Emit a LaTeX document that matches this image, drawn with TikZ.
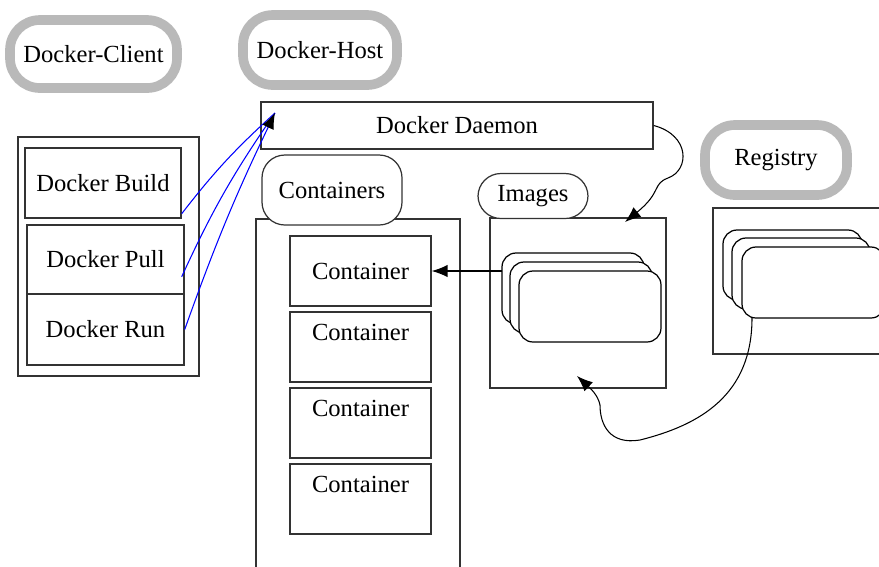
\documentclass[tikz,border=0pt]{standalone}
\usepackage{fontspec}
\setmainfont{Liberation Serif}
\usetikzlibrary{arrows.meta}
\begin{document}
\begin{tikzpicture}[x=0.02cm, y=-0.02cm,
    font=\fontsize{14}{16}\selectfont,
    size/.style args={#1/#2}{minimum width=#1*0.02cm, minimum height=#2*0.02cm, inner sep=0pt},
    title/.style={draw=gray!55, line width=5.5pt, rounded corners=17pt, size=#1},
    box/.style={draw=black!80, line width=0.8pt, size=#1},
    tag/.style={draw=black!80, line width=0.7pt, rounded corners=13pt, fill=white, size=#1},
    card/.style={draw, line width=0.7pt, rounded corners=8pt, fill=white},
    tip/.style={-{Latex[length=9pt,width=7pt]}, line width=0.6pt},
    cmd/.style={blue, line width=0.6pt}
]
\useasboundingbox (0,0) rectangle (879,566);

% titles
\node[title=167/68] (client) at (93.5,54) {Docker-Client};
\node[title=154/70] (host) at (320,50) {Docker-Host};
\node[title=142/70] (registry) at (776,160) {Registry};

% client side
\draw[draw=black!80, line width=0.8pt] (18,137) rectangle (199,376);
\node[box=156/70] (build) at (103,183) {Docker Build};
\node[box=157/69] (pull) at (105.5,259.5) {Docker Pull};
\node[box=157/71] (run) at (105.5,329.5) {Docker Run};

% host side
\node[box=392/47] (daemon) at (457,125.5) {Docker Daemon};
\draw[draw=black!80, line width=0.8pt] (256,580) -- (256,219) -- (460,219) -- (460,580);
\node[tag=140/70] (containers) at (332,190) {Containers};
\node[box=141/70] (c1) at (360.5,271) {Container};
\foreach \i/\y in {2/347, 3/423, 4/499} {
  \node[box=141/70] (c\i) at (360.5,\y) {};
  \node[below=4pt] at (c\i.north) {Container};
}

\draw[draw=black!80, line width=0.8pt] (490,218) rectangle (666,388);
\node[tag=110/45] (images) at (533,196) {Images};
\draw[card] (502,253) rectangle (644,324);
\draw[card] (510,262) rectangle (652,333);
\draw[card] (519,271) rectangle (661,342);
\coordinate (imgstack) at (502,271);

% registry
\draw[draw=black!80, line width=0.8pt] (713,208) rectangle (900,354);
\draw[card] (723,230) rectangle (862,300);
\draw[card] (732,238) rectangle (870,309);
\draw[card] (742,247) rectangle (885,318);
\coordinate (regstack) at (752,318);

% connectors
\coordinate (dtip) at (275,113);
\draw[cmd] (build.south east) ++(0,-5) to[bend left=5] (dtip);
\draw[cmd] (pull.south east) ++(-3,-18) to[bend left=5] (dtip);
\draw[cmd, -{Latex[black,length=9pt,width=7pt]}] (run.east) to[bend left=3] (dtip);
\draw[tip] (imgstack) -- (c1.east);
\draw[tip] (daemon.east) .. controls (690,135) and (690,170) .. (668,178)
  .. controls (652,184) and (662,192) .. (625,222);
\draw[tip] (regstack) .. controls (752,395) and (700,425) .. (640,440)
  .. controls (610,445) and (600,425) .. (600,405)
  .. controls (598,395) and (590,388) .. (577,376);
\end{tikzpicture}
\end{document}
